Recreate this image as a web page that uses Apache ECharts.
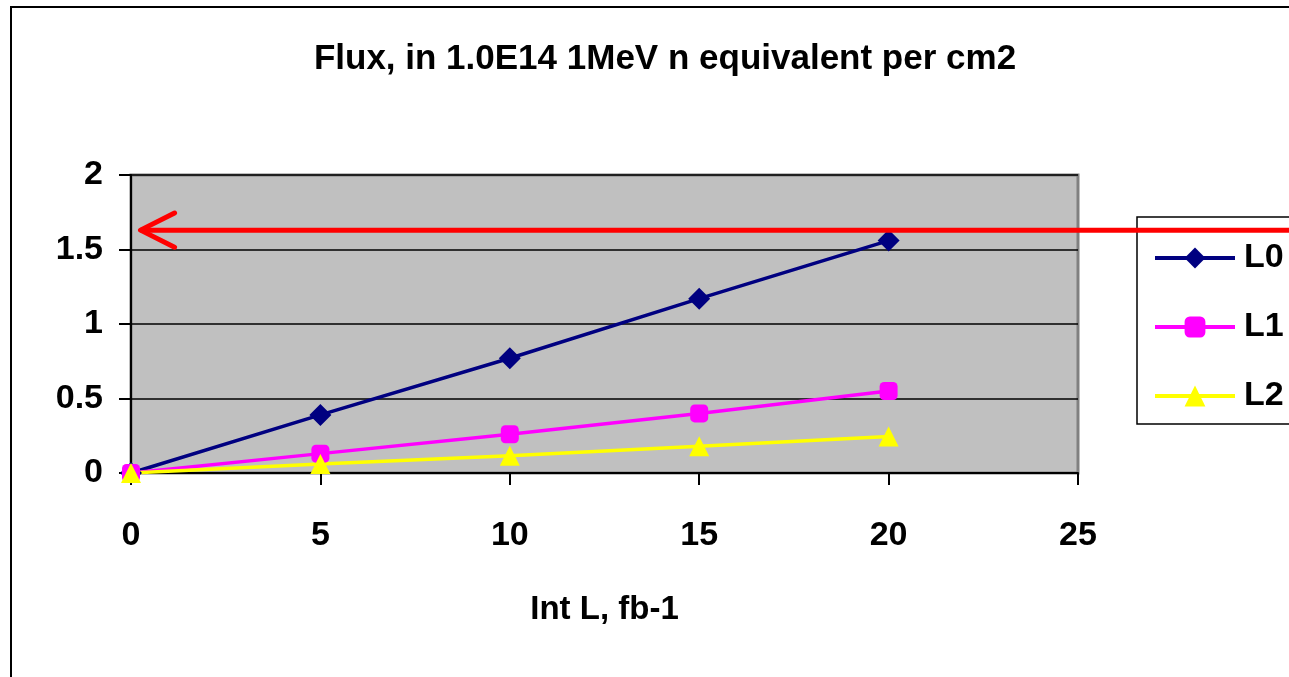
<!DOCTYPE html>
<html>
<head>
<meta charset="utf-8">
<script src="https://cdn.jsdelivr.net/npm/echarts@6/dist/echarts.min.js"></script>
<style>
  html, body { margin: 0; padding: 0; background: #fff; }
  #chart { width: 1289px; height: 677px; }
</style>
</head>
<body>
<div id="chart"></div>
<script>
// Integrated luminosity (fb-1) and fluence per layer (1.0E14 1MeV n eq / cm2)
const intL = [0, 5, 10, 15, 20];
const fluxL0 = [0, 0.39, 0.77, 1.17, 1.56];
const fluxL1 = [0, 0.13, 0.26, 0.40, 0.55];
const fluxL2 = [0, 0.06, 0.115, 0.18, 0.245];
const seriesNames = ['L0', 'L1', 'L2'];
const xTicks = [0, 5, 10, 15, 20, 25];
const yTicks = [0, 0.5, 1, 1.5, 2];
// Limit marked by the red arrow
const limitLevel = 1.63;
const arrowTipX = 0.25;
const arrowArmX = 1.15;

const FONT = '"Liberation Sans", Arial, sans-serif';

const chart = echarts.init(document.getElementById('chart'));

function pairs(ys) { return intL.map((x, i) => [x, ys[i]]); }

const lineSeries = (name, ys, color, symbol, size) => ({
  name: name,
  type: 'line',
  data: pairs(ys),
  symbol: symbol,
  symbolSize: size,
  showAllSymbol: true,
  lineStyle: { color: color, width: 3.5 },
  itemStyle: { color: color },
  z: 5,
  animation: false
});

chart.setOption({
  animation: false,
  backgroundColor: '#ffffff',
  title: {
    text: 'Flux, in 1.0E14 1MeV n equivalent per cm2',
    left: 660,
    top: 37,
    textAlign: 'center',
    textStyle: { fontFamily: FONT, fontWeight: 'bold', fontSize: 35, color: '#000' }
  },
  grid: {
    left: 131, top: 175, width: 947, height: 298,
    show: true,
    backgroundColor: '#c0c0c0',
    borderColor: '#808080',
    borderWidth: 3
  },
  legend: {
    orient: 'vertical',
    left: 1137,
    top: 217,
    padding: [24, 80, 11, 16],
    itemGap: 35,
    itemWidth: 80,
    itemHeight: 26,
    borderColor: '#000',
    borderWidth: 1.5,
    backgroundColor: '#fff',
    lineStyle: { width: 4 },
    data: seriesNames,
    textStyle: { fontFamily: FONT, fontWeight: 'bold', fontSize: 34, color: '#000', padding: [0, 0, 0, 4] }
  },
  xAxis: {
    type: 'value',
    min: xTicks[0],
    max: xTicks[xTicks.length - 1],
    interval: 5,
    name: 'Int L, fb-1',
    nameLocation: 'middle',
    nameGap: 120,
    nameTextStyle: { fontFamily: FONT, fontWeight: 'bold', fontSize: 33, color: '#000' },
    axisLine: { lineStyle: { color: '#000', width: 2 } },
    axisTick: { show: true, length: 12, lineStyle: { color: '#000', width: 2 } },
    axisLabel: { margin: 46, fontFamily: FONT, fontWeight: 'bold', fontSize: 34, color: '#000' },
    splitLine: { show: false }
  },
  yAxis: {
    type: 'value',
    min: yTicks[0],
    max: yTicks[yTicks.length - 1],
    interval: 0.5,
    axisLine: { show: true, lineStyle: { color: '#000', width: 2 } },
    axisTick: { show: true, length: 12, lineStyle: { color: '#000', width: 2 } },
    axisLabel: { margin: 28, fontFamily: FONT, fontWeight: 'bold', fontSize: 34, color: '#000' },
    splitLine: { show: true, lineStyle: { color: '#000', width: 1.5 } }
  },
  series: [
    lineSeries('L0', fluxL0, '#000080', 'diamond', 22),
    lineSeries('L1', fluxL1, '#ff00ff', 'roundRect', 18),
    lineSeries('L2', fluxL2, '#ffff00', 'triangle', 20)
  ]
});

// Outer chart frame and the red limit arrow, placed through the axis scales
function drawOverlay() {
  const tip = chart.convertToPixel({ gridIndex: 0 }, [arrowTipX, limitLevel]);
  const armTop = chart.convertToPixel({ gridIndex: 0 }, [arrowArmX, limitLevel + 0.115]);
  const armBot = chart.convertToPixel({ gridIndex: 0 }, [arrowArmX, limitLevel - 0.115]);
  const w = chart.getWidth();
  chart.setOption({
    graphic: [
      {
        type: 'rect', silent: true, z: 100,
        shape: { x: 11, y: 7, width: w + 20, height: 700 },
        style: { fill: null, stroke: '#000', lineWidth: 2 }
      },
      {
        type: 'line', silent: true, z: 110,
        shape: { x1: tip[0], y1: tip[1], x2: w + 5, y2: tip[1] },
        style: { stroke: '#ff0000', lineWidth: 5 }
      },
      {
        type: 'polyline', silent: true, z: 110,
        shape: { points: [armTop, tip, armBot] },
        style: { stroke: '#ff0000', lineWidth: 5, fill: null, lineCap: 'round', lineJoin: 'round' }
      }
    ]
  });
}
drawOverlay();
</script>
</body>
</html>
